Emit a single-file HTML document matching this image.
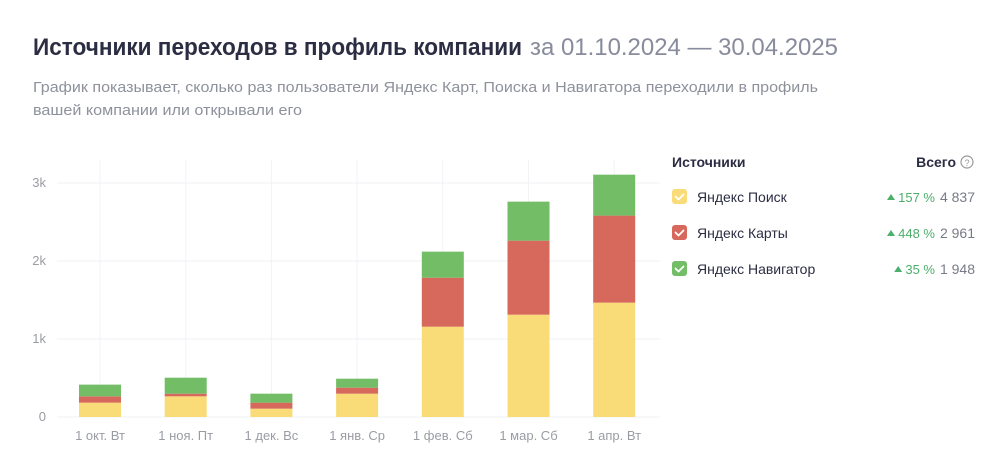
<!DOCTYPE html>
<html><head><meta charset="utf-8">
<style>
html,body{margin:0;padding:0;background:#fff;}
svg{display:block;font-family:"Liberation Sans",sans-serif;}
</style></head>
<body>
<svg id="c" width="1008" height="473" viewBox="0 0 1008 473">
<text x="33" y="55" font-size="24" font-weight="bold" fill="#2b2d42" textLength="489" lengthAdjust="spacingAndGlyphs">Источники переходов в профиль компании</text>
<text x="530" y="55" font-size="24" fill="#878b9c" textLength="308" lengthAdjust="spacingAndGlyphs">за 01.10.2024 — 30.04.2025</text>
<text x="33" y="92" font-size="15" fill="#8e919c" textLength="785" lengthAdjust="spacingAndGlyphs">График показывает, сколько раз пользователи Яндекс Карт, Поиска и Навигатора переходили в профиль</text>
<text x="33" y="115" font-size="15" fill="#8e919c" textLength="269" lengthAdjust="spacingAndGlyphs">вашей компании или открывали его</text>
<g id="plot"></g>
<g>
<text x="672" y="167" font-size="14" font-weight="bold" fill="#2b2d42">Источники</text>
<text x="956" y="167" font-size="14" font-weight="bold" fill="#2b2d42" text-anchor="end">Всего</text>
<g><circle cx="967" cy="162" r="6" fill="none" stroke="#999" stroke-width="1.2"/><text x="967" y="166" font-size="9" fill="#999" text-anchor="middle">?</text></g>
</g>
<g id="leg"></g>
</svg>
<script>
const categories=["1 окт. Вт","1 ноя. Пт","1 дек. Вс","1 янв. Ср","1 фев. Сб","1 мар. Сб","1 апр. Вт"];
const searchValues=[184,265,107,299,1158,1312,1466];
const mapsValues=[81,34,77,77,628,949,1116];
const naviValues=[150,205,115,115,334,500,525];
const yTicks=[0,1000,2000,3000];
const yTickLabels=["0","1k","2k","3k"];
const seriesNames=["Яндекс Поиск","Яндекс Карты","Яндекс Навигатор"];
const seriesPct=["157 %","448 %","35 %"];
const seriesTotals=["4 837","2 961","1 948"];
const colors=["#f9dc78","#d6695c","#72bd66"];
const NS="http://www.w3.org/2000/svg";
const plot=document.getElementById('plot');
const y0=417,pxPerUnit=234/3000;
const yScale=v=>y0-v*pxPerUnit;
const x0=100,step=85.7,bw=42;
const xScale=i=>x0+i*step;
function mk(tag,attrs,parent){const e=document.createElementNS(NS,tag);for(const k in attrs)e.setAttribute(k,attrs[k]);parent.appendChild(e);return e;}
categories.forEach((c,i)=>{
  const g=mk('line',{x1:xScale(i),x2:xScale(i),y1:160,y2:y0,stroke:"#f1f3f7","stroke-width":1},plot);
  
  
});
yTicks.forEach((t,i)=>{
  const l=mk('line',{x1:57,x2:660,y1:yScale(t),y2:yScale(t),stroke:"#eef1f6","stroke-width":1},plot);
  
  
  const tx=mk('text',{x:46,y:yScale(t)+4,"font-size":13,fill:"#9a9ca3","text-anchor":"end"},plot);
  tx.textContent=yTickLabels[i];
  
  
});
const series=[searchValues,mapsValues,naviValues];
categories.forEach((c,i)=>{
  let base=0;
  series.forEach((s,k)=>{
    const top=base+s[i];
    const r=mk('rect',{x:xScale(i)-bw/2,y:yScale(top),width:bw,height:yScale(base)-yScale(top),fill:colors[k]},plot);
    
    
    base=top;
  });
  const t=mk('text',{x:xScale(i),y:440,"font-size":13,fill:"#9a9ca3","text-anchor":"middle"},plot);
  t.textContent=c;
  
  
});
const leg=document.getElementById('leg');
seriesNames.forEach((n,k)=>{
  const yb=202+k*36;
  const g=mk('g',{},leg);
  
  
  mk('rect',{x:672,y:yb-13,width:15,height:15,rx:3,fill:colors[k]},g);
  mk('path',{d:`M675.5 ${yb-5.5} l3 3 l5 -5`,fill:"none",stroke:"#fff","stroke-width":1.8,"stroke-linecap":"round","stroke-linejoin":"round"},g);
  const t=mk('text',{x:697,y:yb,"font-size":14,fill:"#2b2d42"},g);t.textContent=n;
  const p=mk('text',{x:935,y:yb,"font-size":13,fill:"#4caf6a","text-anchor":"end"},g);p.textContent=seriesPct[k];
  const pw=seriesPct[k].length*7.2;
  mk('path',{d:`M${935-pw-12} ${yb-2} l4 -6 l4 6 z`,fill:"#4caf6a"},g);
  const v=mk('text',{x:975,y:yb,"font-size":14,fill:"#777b86","text-anchor":"end"},g);v.textContent=seriesTotals[k];
});
</script>
</body></html>
